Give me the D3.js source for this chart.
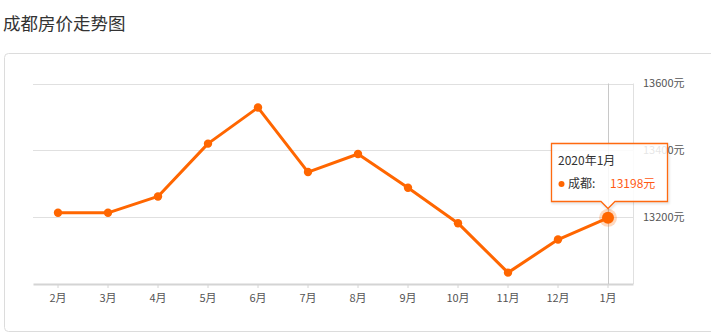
<!DOCTYPE html>
<html>
<head>
<meta charset="utf-8">
<script src="https://cdn.jsdelivr.net/npm/d3@7"></script>
<style>
    body { margin: 0; background: #fff; font-family: "Noto Sans CJK SC", "Noto Sans", sans-serif; }
    svg { display: block; }
</style>
</head>
<body>
<div id="chart"></div>
<script>
const months = ['2月', '3月', '4月', '5月', '6月', '7月', '8月', '9月', '10月', '11月', '12月', '1月'];
const prices = [13213, 13213, 13262, 13420, 13528, 13335, 13389, 13288, 13182, 13034, 13133, 13198];
const yTicks = [13200, 13400, 13600];
const title = '成都房价走势图';
const seriesName = '成都';
const tooltipTitle = '2020年1月';

const config = {
    width: 711,
    height: 334,
    plot: { left: 33, right: 633, top: 83.5, bottom: 284 },
    colour: '#ff6600',
};

const svg = d3.select('#chart').append('svg')
    .attr('width', config.width)
    .attr('height', config.height);

svg.append('text')
    .attr('x', 3)
    .attr('y', 30)
    .attr('font-size', 17.5)
    .attr('fill', '#333')
    .text(title);

// card outline
svg.append('rect')
    .attr('x', 4.5)
    .attr('y', 53.5)
    .attr('width', 720)
    .attr('height', 278)
    .attr('rx', 4)
    .attr('fill', 'none')
    .attr('stroke', '#dcdcdc');

const x = d3.scaleBand()
    .domain(months)
    .range([config.plot.left, config.plot.right]);

const y = d3.scaleLinear()
    .domain([13000, 13600])
    .range([config.plot.bottom, config.plot.top]);

const cx = m => x(m) + x.bandwidth() / 2;

// grid
svg.append('g')
    .selectAll('line')
    .data(yTicks)
    .join('line')
    .attr('x1', config.plot.left)
    .attr('x2', config.plot.right)
    .attr('y1', d => Math.round(y(d)) + 0.5)
    .attr('y2', d => Math.round(y(d)) + 0.5)
    .attr('stroke', '#e0e0e0');

svg.append('line')
    .attr('x1', config.plot.right + 0.5)
    .attr('x2', config.plot.right + 0.5)
    .attr('y1', config.plot.top)
    .attr('y2', config.plot.bottom)
    .attr('stroke', '#e0e0e0');

// y labels on the right
svg.append('g')
    .selectAll('text')
    .data(yTicks)
    .join('text')
    .attr('x', 643)
    .attr('y', d => y(d))
    .attr('dy', '0.35em')
    .attr('font-size', 11)
    .attr('fill', '#555')
    .text(d => d + '元');

// x axis
const xAxis = d3.axisBottom(x).tickSize(4).tickPadding(6).tickSizeOuter(0);
const xAxisGroup = svg.append('g')
    .attr('transform', `translate(0,${config.plot.bottom})`)
    .call(xAxis);
xAxisGroup.select('.domain').attr('stroke', '#d4d4d4').attr('stroke-width', 2);
xAxisGroup.selectAll('.tick line').attr('stroke', '#d4d4d4');
xAxisGroup.selectAll('.tick text')
    .attr('font-size', 11)
    .attr('fill', '#555')
    .attr('font-family', '"Noto Sans CJK SC", sans-serif');

// crosshair on last month
const last = months[months.length - 1];
const lastVal = prices[prices.length - 1];
svg.append('line')
    .attr('x1', cx(last) + 0.5)
    .attr('x2', cx(last) + 0.5)
    .attr('y1', config.plot.top)
    .attr('y2', config.plot.bottom)
    .attr('stroke', '#c8c8c8');

const data = months.map((m, i) => ({ month: m, value: prices[i] }));

const line = d3.line()
    .x(d => cx(d.month))
    .y(d => y(d.value));

svg.append('path')
    .datum(data)
    .attr('d', line)
    .attr('fill', 'none')
    .attr('stroke', config.colour)
    .attr('stroke-width', 3)
    .attr('stroke-linejoin', 'round');

svg.append('g')
    .selectAll('circle')
    .data(data.slice(0, -1))
    .join('circle')
    .attr('cx', d => cx(d.month))
    .attr('cy', d => y(d.value))
    .attr('r', 4.2)
    .attr('fill', config.colour);

// highlighted point
svg.append('circle')
    .attr('cx', cx(last))
    .attr('cy', y(lastVal))
    .attr('r', 9)
    .attr('fill', config.colour)
    .attr('opacity', 0.25);
svg.append('circle')
    .attr('cx', cx(last))
    .attr('cy', y(lastVal))
    .attr('r', 6)
    .attr('fill', config.colour);

// tooltip
const tipX = cx(last);
const tip = { left: 551.5, right: 667.5, top: 143.5, bottom: 201.5 };
const tipPath = d3.path();
tipPath.moveTo(tip.left, tip.top);
tipPath.lineTo(tip.right, tip.top);
tipPath.lineTo(tip.right, tip.bottom);
tipPath.lineTo(tipX + 7, tip.bottom);
tipPath.lineTo(tipX, tip.bottom + 7);
tipPath.lineTo(tipX - 7, tip.bottom);
tipPath.lineTo(tip.left, tip.bottom);
tipPath.closePath();

const defs = svg.append('defs');
const filter = defs.append('filter').attr('id', 'shadow')
    .attr('x', '-20%').attr('y', '-20%').attr('width', '140%').attr('height', '150%');
filter.append('feGaussianBlur').attr('stdDeviation', 1.2);

svg.append('path')
    .attr('d', tipPath.toString())
    .attr('transform', 'translate(1,1.5)')
    .attr('fill', 'none')
    .attr('stroke', 'rgba(0,0,0,0.12)')
    .attr('stroke-width', 2)
    .attr('filter', 'url(#shadow)');

svg.append('path')
    .attr('d', tipPath.toString())
    .attr('fill', 'rgba(255,255,255,0.85)')
    .attr('stroke', '#ff6a10')
    .attr('stroke-width', 1.3);

svg.append('text')
    .attr('x', 558)
    .attr('y', 161)
    .attr('dy', '0.35em')
    .attr('font-size', 12)
    .attr('fill', '#333')
    .text(tooltipTitle);

svg.append('circle')
    .attr('cx', 561.5)
    .attr('cy', 184)
    .attr('r', 3)
    .attr('fill', config.colour);

svg.append('text')
    .attr('x', 568)
    .attr('y', 184)
    .attr('dy', '0.35em')
    .attr('font-size', 12)
    .attr('fill', '#333')
    .text(seriesName + ':');

svg.append('text')
    .attr('x', 610)
    .attr('y', 184)
    .attr('dy', '0.35em')
    .attr('font-size', 12)
    .attr('fill', '#ff5a14')
    .text(lastVal + '元');
</script>
</body>
</html>
